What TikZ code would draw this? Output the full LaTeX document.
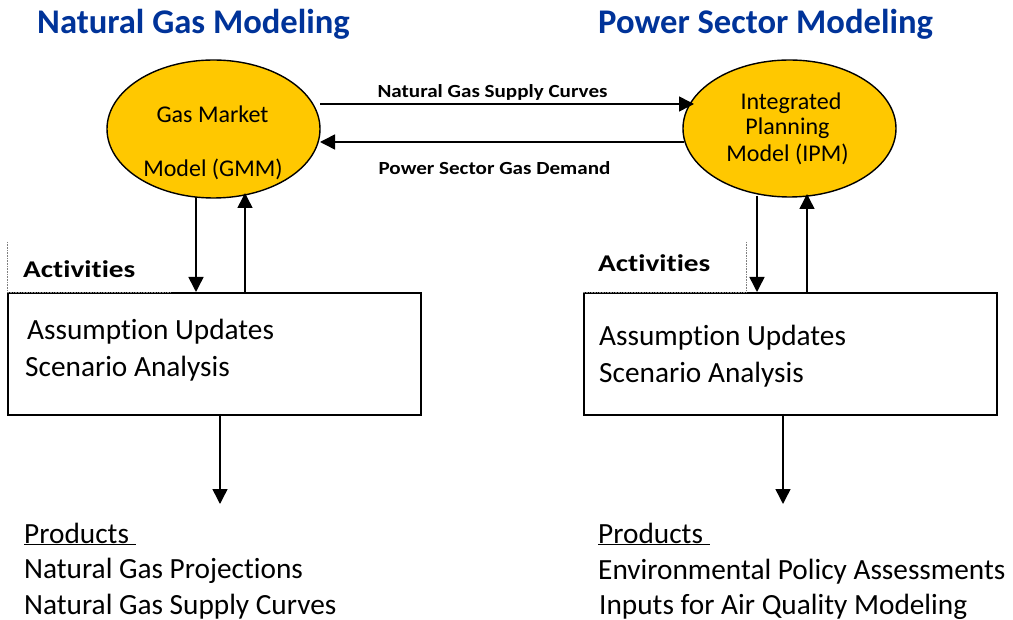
\documentclass[tikz,border=0pt]{standalone}
\usepackage{fontspec}
\setmainfont{Carlito}[Ligatures=NoCommon]
\newfontfamily\actfont{Carlito}[Ligatures=NoCommon, FakeStretch=1.22]
\newfontfamily\lblfont{Carlito}[Ligatures=NoCommon, FakeStretch=1.14]
\usetikzlibrary{arrows.meta,shapes.geometric}
\definecolor{gold}{RGB}{255,200,0}
\definecolor{titleblue}{RGB}{0,51,153}
\tikzset{
  model/.style={ellipse, draw=black, line width=1.4pt, fill=gold, inner sep=0pt},
  ttl/.style={anchor=base west, font=\fontsize{34.6}{36}\selectfont\bfseries, text=titleblue, inner sep=0pt},
  lbl/.style={anchor=base, font=\lblfont\fontsize{18.5}{20}\selectfont\bfseries, inner sep=0pt},
  txt/.style={anchor=base west, font=\fontsize{29.3}{32}\selectfont, inner sep=0pt},
  act/.style={anchor=base west, font=\actfont\fontsize{24}{26}\selectfont\bfseries, inner sep=0pt},
  etxt/.style={anchor=base, font=\fontsize{24}{26}\selectfont, inner sep=0pt},
  box/.style={draw=black, line width=1.6pt, inner sep=0pt},
  arr/.style={line width=1.5pt, -{Triangle[length=15pt,width=15pt]}},
  dots/.style={line width=0.6pt, densely dotted, gray}
}
\begin{document}
\begin{tikzpicture}[x=1pt,y=-1pt]
\useasboundingbox (0,0) rectangle (1013,620);
% titles
\node[ttl] (t1) at (37,34) {Natural Gas Modeling};
\node[ttl] (t2) at (598,34) {Power Sector Modeling};
% ellipses
\node[model, minimum width=213pt, minimum height=138pt] (gmm) at (213.5,129) {};
\node[etxt] (g1) at (212.5,123) {Gas Market};
\node[etxt] (g2) at (213,177) {Model (GMM)};
\node[model, minimum width=213pt, minimum height=137pt] (ipm) at (789.5,128.5) {};
\node[etxt] (i1) at (791,110) {Integrated};
\node[etxt] (i2) at (787.5,135) {Planning};
\node[etxt] (i3) at (787.5,162) {Model (IPM)};
% horizontal arrows
\coordinate (a1s) at (320,104);
\coordinate (a1e) at (694,104);
\draw[arr] (a1s) -- (a1e);
\node[lbl] (l1) at (492.5,98) {Natural Gas Supply Curves};
\coordinate (a2s) at (684,142);
\coordinate (a2e) at (320,142);
\draw[arr] (a2s) -- (a2e);
\node[lbl] (l2) at (494.5,175) {Power Sector Gas Demand};
% boxes
\node[box, minimum width=413pt, minimum height=122pt, anchor=north west] (b1) at (7,292) {};
\node[box, minimum width=413pt, minimum height=122pt, anchor=north west] (b2) at (583,292) {};
% dotted text box remnants
\coordinate (d1a) at (7,242);
\coordinate (d1b) at (7,292);
\coordinate (d1c) at (170,292);
\draw[dots] (d1a) -- (d1b) -- (d1c);
\coordinate (d2a) at (746,242);
\coordinate (d2b) at (746,292);
\coordinate (d2c) at (583,292);
\draw[dots] (d2a) -- (d2b) -- (d2c);
\node[act] (act1) at (23,278) {Activities};
\node[act] (act2) at (598,272) {Activities};
% vertical arrows left
\draw[arr] (196,197) -- (196,292);
\draw[arr] (245,292) -- (245,193);
\coordinate (o1) at (220,504);
\draw[arr] (220,414) -- (o1);
% vertical arrows right
\draw[arr] (757,196) -- (757,292);
\draw[arr] (807,292) -- (807,194);
\coordinate (o2) at (783,504);
\draw[arr] (783,414) -- (o2);
% box texts
\node[txt] (s1) at (27,340) {Assumption Updates};
\node[txt] (s2) at (25,377) {Scenario Analysis};
\node[txt] (s3) at (599,346) {Assumption Updates};
\node[txt] (s4) at (599,383) {Scenario Analysis};
% products
\node[txt] (p1) at (24,543) {\underline{Products\ }};
\node[txt] (p2) at (24,578) {Natural Gas Projections};
\node[txt] (p3) at (24,614) {Natural Gas Supply Curves};
\node[txt] (q1) at (598,543) {\underline{Products\ }};
\node[txt] (q2) at (598,579) {Environmental Policy Assessments};
\node[txt] (q3) at (599,614) {Inputs for Air Quality Modeling};
\end{tikzpicture}
\end{document}
